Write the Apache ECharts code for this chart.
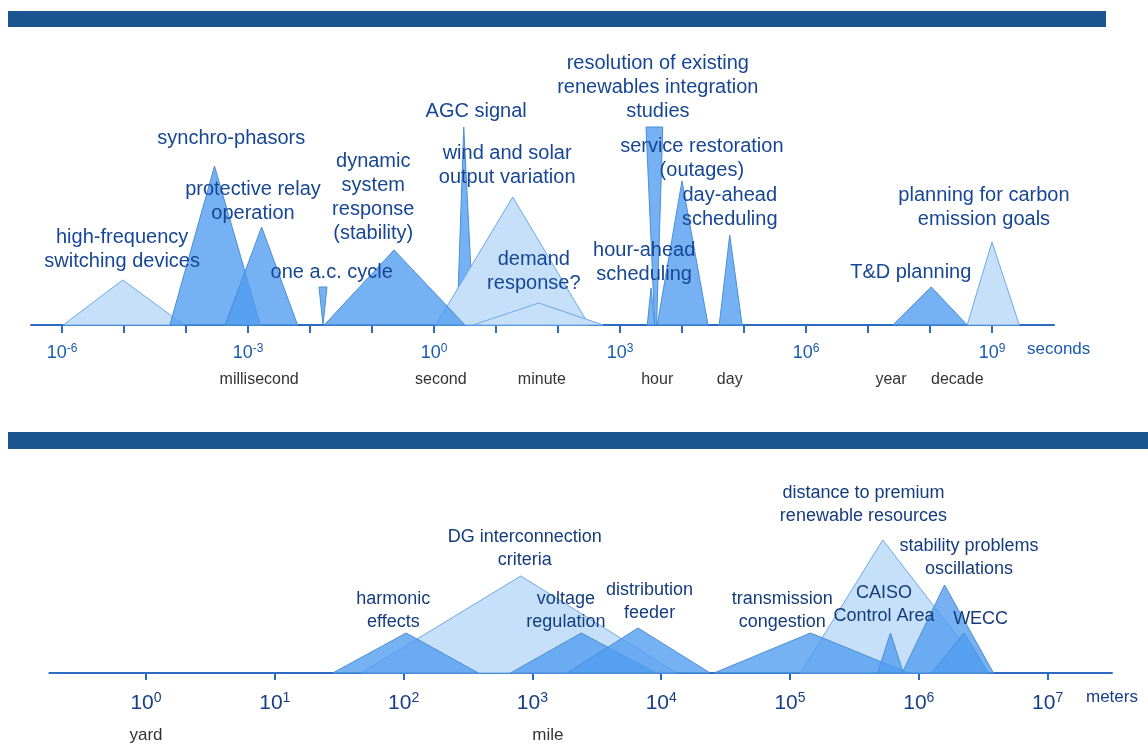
<!DOCTYPE html>
<html><head><meta charset="utf-8">
<script src="https://cdn.jsdelivr.net/npm/echarts@6/dist/echarts.min.js"></script>
<style>html,body{margin:0;padding:0;background:#fff}#c{width:1148px;height:745px}</style>
</head><body><div id="c"></div>
<script>
// ===== Time panel: x = log10(seconds), y = relative bar height =====
const timeTickExp = [-6,-5,-4,-3,-2,-1,0,1,2,3,4,5,6,7,8,9];
const timeLabelExp = [-6,-3,0,3,6,9];
const timeUnitNames = ['millisecond','second','minute','hour','day','year','decade'];
const timeUnitPos = [-2.82, 0.11, 1.74, 3.6, 4.77, 7.37, 8.44];

const timeShapeTone  = ['light','mid','mid','mid','mid','mid','light','light','mid','mid','mid','mid','mid','light'];
const timeShapeLayer = [1,2,3,3,4,1,2,3,2,3,3,3,3,3];
const timeShapePts = [
  [[-5.98,0],[-5.02,45],[-4.03,0]],              // high-frequency switching devices
  [[-4.26,0],[-3.54,159],[-2.8,0]],              // synchro-phasors
  [[-3.37,0],[-2.78,98],[-2.2,0]],               // protective relay operation
  [[-1.855,38],[-1.726,38],[-1.79,0]],           // one a.c. cycle
  [[-1.77,0],[-0.645,75],[0.5,0]],               // dynamic system response
  [[0.37,0],[0.48,198],[0.64,0]],                // AGC signal
  [[0.03,0],[1.27,128],[2.5,0]],                 // wind and solar output variation
  [[0.63,0],[1.69,22],[2.73,0]],                 // demand response
  [[3.42,198],[3.69,198],[3.59,0],[3.56,0]],     // resolution of existing studies
  [[3.44,0],[3.5,37],[3.56,0]],                  // hour-ahead scheduling
  [[3.6,0],[4.0,144],[4.42,0]],                  // service restoration
  [[4.6,0],[4.77,90],[4.97,0]],                  // day-ahead scheduling
  [[7.4,0],[8.02,38],[8.6,0]],                   // T&D planning
  [[8.6,0],[9.0,83],[9.44,0]]                    // carbon emission goals
];
const timeLabelText = [
  'high-frequency\nswitching devices','synchro-phasors','protective relay\noperation',
  'dynamic\nsystem\nresponse\n(stability)','one a.c. cycle','AGC signal',
  'wind and solar\noutput variation','demand\nresponse?',
  'resolution of existing\nrenewables integration\nstudies','service restoration\n(outages)',
  'day-ahead\nscheduling','hour-ahead\nscheduling','T&D planning','planning for carbon\nemission goals'
];
const timeLabelX = [-5.03,-3.27,-2.92,-0.98,-1.65,0.68,1.18,1.61,3.61,4.32,4.77,3.39,7.69,8.87];
const timeLabelY = [76,187,124,127.5,53,214,160,53.5,238,167,118,63,53,117.5];

// ===== Distance panel: x = log10(meters) =====
const distTickExp = [0,1,2,3,4,5,6,7];
const distUnitNames = ['yard','mile'];
const distUnitPos = [0, 3.12];

const distShapeTone  = ['light','light','mid','mid','mid','mid','mid','mid','mid'];
const distShapeLayer = [1,1,2,2,3,2,3,3,4];
const distShapePts = [
  [[1.67,0],[2.91,97],[4.12,0]],     // DG interconnection criteria
  [[5.08,0],[5.72,133],[6.52,0]],    // distance to premium renewable resources
  [[1.45,0],[2.02,40],[2.58,0]],     // harmonic effects
  [[2.83,0],[3.38,40],[3.96,0]],     // voltage regulation
  [[3.27,0],[3.82,45],[4.38,0]],     // distribution feeder
  [[4.41,0],[5.16,40],[5.92,0]],     // transmission congestion
  [[5.68,0],[5.78,40],[5.88,0]],     // CAISO Control Area
  [[5.87,0],[6.2,88],[6.58,0]],      // stability problems oscillations
  [[6.1,0],[6.35,40],[6.54,0]]       // WECC
];
const distLabelText = [
  'DG interconnection\ncriteria','harmonic\neffects','voltage\nregulation','distribution\nfeeder',
  'transmission\ncongestion','distance to premium\nrenewable resources','CAISO\nControl Area',
  'stability problems\noscillations','WECC'
];
const distLabelX = [2.94,1.92,3.26,3.91,4.94,5.57,5.73,6.39,6.48];
const distLabelY = [124.5,62.5,62.5,71.5,62.5,168.5,68,115.5,54];

// ===== rendering =====
const FONT = '"Liberation Sans", Arial, Helvetica, sans-serif';
const MID_FILL = 'rgba(80,156,239,0.78)', MID_STROKE = '#4a8fd8';
const LIGHT_FILL = '#c6e0fa', LIGHT_STROKE = '#6caaea';

function shapeSeries(idx, pts, tone, layer) {
  const order = pts.map((_, i) => i).sort((a, b) => layer[a] - layer[b] || a - b);
  return {
    type: 'custom', xAxisIndex: idx, yAxisIndex: idx, z: 2, clip: false, silent: true,
    data: order.map(i => pts[i][0]),
    renderItem: (params, api) => {
      const i = order[params.dataIndex];
      const light = tone[i] === 'light';
      return {
        type: 'polygon', z2: params.dataIndex,
        shape: { points: pts[i].map(p => api.coord(p)) },
        style: { fill: light ? LIGHT_FILL : MID_FILL, stroke: light ? LIGHT_STROKE : MID_STROKE, lineWidth: 1 }
      };
    }
  };
}
function labelSeries(idx, xs, ys, texts, color, size, lh) {
  return {
    type: 'custom', xAxisIndex: idx, yAxisIndex: idx, z: 5, clip: false, silent: true,
    data: xs.map((x, i) => [x, ys[i]]),
    renderItem: (params, api) => {
      const c = api.coord([api.value(0), api.value(1)]);
      return {
        type: 'text', x: c[0], y: c[1],
        style: { text: texts[params.dataIndex], fill: color, fontSize: size, fontFamily: FONT,
                 align: 'center', verticalAlign: 'middle', lineHeight: lh }
      };
    }
  };
}
function powAxis(grid, min, max, ticks, labels, name, nameGap, color, lineColor, bSize, sSize, sPad, margin, tickLen) {
  return {
    type: 'value', gridIndex: grid, min: min, max: max, position: 'bottom',
    splitLine: { show: false },
    axisLine: { show: true, onZero: false, lineStyle: { color: lineColor, width: 2 } },
    axisTick: { show: true, length: tickLen, customValues: ticks, lineStyle: { color: lineColor, width: 2 } },
    axisLabel: {
      customValues: labels, margin: margin,
      formatter: v => '{b|10}{s|' + v + '}',
      rich: {
        b: { fontSize: bSize, color: color, fontFamily: FONT },
        s: { fontSize: sSize, color: color, fontFamily: FONT, padding: [0, 0, sPad, 0] }
      }
    },
    name: name, nameLocation: 'end', nameGap: nameGap,
    nameTextStyle: { color: color, fontSize: 17, fontFamily: FONT, align: 'left', verticalAlign: 'top', padding: [16, 0, 0, 0] }
  };
}
function unitAxis(grid, min, max, pos, names, margin, size) {
  return {
    type: 'value', gridIndex: grid, min: min, max: max, position: 'bottom',
    axisLine: { show: false }, axisTick: { show: false }, splitLine: { show: false },
    axisLabel: { customValues: pos, margin: margin, color: '#333', fontSize: size, fontFamily: FONT,
                 formatter: v => names[pos.indexOf(v)] }
  };
}

const chart = echarts.init(document.getElementById('c'));
chart.setOption({
  animation: false,
  backgroundColor: '#fff',
  graphic: [
    { type: 'rect', left: 8, top: 11, shape: { width: 1098, height: 16 }, style: { fill: '#1a5592' } },
    { type: 'rect', left: 8, top: 432, shape: { width: 1140, height: 17 }, style: { fill: '#1a5592' } }
  ],
  grid: [
    { left: 31, top: 125, width: 1023, height: 200 },
    { left: 49.4, top: 473, width: 1062.6, height: 200 }
  ],
  xAxis: [
    powAxis(0, -6.5, 10, timeTickExp, timeLabelExp, 'seconds', -27, '#1a5aaf', '#2b6cc0', 18, 12, 9, 18, 8),
    powAxis(1, -0.75, 7.5, distTickExp, distTickExp, 'meters', -26, '#163f85', '#2b6cc0', 21, 14, 10, 18, 7),
    unitAxis(0, -6.5, 10, timeUnitPos, timeUnitNames, 47, 16),
    unitAxis(1, -0.75, 7.5, distUnitPos, distUnitNames, 54, 17)
  ],
  yAxis: [
    { type: 'value', gridIndex: 0, min: 0, max: 200, show: false },
    { type: 'value', gridIndex: 1, min: 0, max: 200, show: false }
  ],
  series: [
    shapeSeries(0, timeShapePts, timeShapeTone, timeShapeLayer),
    shapeSeries(1, distShapePts, distShapeTone, distShapeLayer),
    labelSeries(0, timeLabelX, timeLabelY, timeLabelText, '#164694', 20, 24),
    labelSeries(1, distLabelX, distLabelY, distLabelText, '#143c7c', 18, 23)
  ]
});
</script>
</body></html>
